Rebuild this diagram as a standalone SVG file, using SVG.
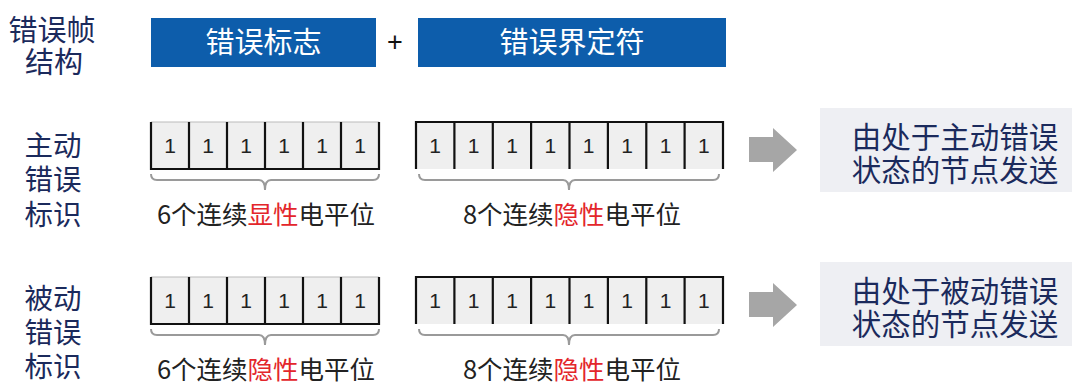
<svg xmlns="http://www.w3.org/2000/svg" width="1072" height="385" viewBox="0 0 1072 385">
<style>
.cjk{font-family:"Noto Sans CJK SC","Noto Sans",sans-serif}
.title{font-size:29px;fill:#1b2a5c}
.side{font-size:28.5px;fill:#1b2a5c}
.blue{fill:#0d5dab}
.bt{font-size:29px;fill:#ffffff}
.cell{fill:#efefef;stroke:none}
.ln{stroke:#111;stroke-width:2.2;fill:none}
.lt{stroke:#bbb;stroke-width:1.2;fill:none}
.dig{font-family:"Liberation Sans",Arial,sans-serif;font-size:21px;fill:#222;text-anchor:middle}
.brace{stroke:#9a9a9a;stroke-width:2;fill:none}
.lab{font-size:25.5px;fill:#222;text-anchor:middle}
.red{fill:#e3262b}
.arrow{fill:#a6a6a6}
.gbox{fill:#eeeff3}
.gt{font-size:29.5px;fill:#1b2a5c;text-anchor:middle}
</style>
<defs>
<g id="c6">
<rect class="cell" x="151" y="122" width="228" height="47"/>
<path class="lt" d="M151 122 H379"/>
<path class="ln" d="M151 122 V169 H379 V122 M189 122 V169 M227 122 V169 M265 122 V169 M303 122 V169 M341 122 V169"/>
<text class="dig" x="170" y="153">1</text><text class="dig" x="208" y="153">1</text><text class="dig" x="246" y="153">1</text><text class="dig" x="284" y="153">1</text><text class="dig" x="322" y="153">1</text><text class="dig" x="360" y="153">1</text>
<path class="brace" d="M151 174 Q151 180 157 180 H259 Q265 180 265 190 Q265 180 271 180 H373 Q379 180 379 174"/>
</g>
<g id="c8">
<rect class="cell" x="416" y="122" width="307" height="47"/>
<path class="ln" d="M416 169 V122 H723 V169 M454.4 122 V169 M492.8 122 V169 M531.1 122 V169 M569.5 122 V169 M607.9 122 V169 M646.3 122 V169 M684.6 122 V169"/>
<text class="dig" x="435" y="153">1</text><text class="dig" x="473.6" y="153">1</text><text class="dig" x="512" y="153">1</text><text class="dig" x="550.3" y="153">1</text><text class="dig" x="588.7" y="153">1</text><text class="dig" x="627.1" y="153">1</text><text class="dig" x="665.5" y="153">1</text><text class="dig" x="703.8" y="153">1</text>
<path class="brace" d="M419 174 Q419 180 425 180 H563 Q569 180 569 190 Q569 180 575 180 H713 Q719 180 719 174"/>
</g>
<path id="arr" d="M749 137 H773 V128 L797 150 L773 172 V162 H749 Z"/>
</defs>

<g id="title">
<text class="cjk title" x="52" y="41" text-anchor="middle">错误帧</text>
<text class="cjk title" x="54" y="73" text-anchor="middle">结构</text>
</g>
<g id="flag">
<rect class="blue" x="151" y="18" width="225" height="49"/>
<text class="cjk bt" x="263.5" y="53" text-anchor="middle">错误标志</text>
</g>
<g id="plus">
<text x="395" y="51" font-family="Liberation Sans,Arial,sans-serif" font-size="27" fill="#111" text-anchor="middle">+</text>
</g>
<g id="delim">
<rect class="blue" x="418" y="18" width="308" height="49"/>
<text class="cjk bt" x="572" y="53" text-anchor="middle">错误界定符</text>
</g>

<g id="active-label">
<text class="cjk side" x="53" y="156" text-anchor="middle">主动</text>
<text class="cjk side" x="53" y="190" text-anchor="middle">错误</text>
<text class="cjk side" x="53" y="225" text-anchor="middle">标识</text>
</g>
<g id="active-flag">
<use href="#c6"/>
<text class="cjk lab" x="266" y="224">6个连续<tspan class="red">显性</tspan>电平位</text>
</g>
<g id="active-delim">
<use href="#c8"/>
<text class="cjk lab" x="572" y="224">8个连续<tspan class="red">隐性</tspan>电平位</text>
</g>
<g id="active-note">
<rect class="gbox" x="820" y="108" width="252" height="84"/>
<text class="cjk gt" x="955" y="148">由处于主动错误</text>
<text class="cjk gt" x="955" y="181">状态的节点发送</text>
</g>

<g id="passive-label">
<text class="cjk side" x="53" y="309" text-anchor="middle">被动</text>
<text class="cjk side" x="53" y="343" text-anchor="middle">错误</text>
<text class="cjk side" x="53" y="377" text-anchor="middle">标识</text>
</g>
<g id="passive-flag">
<use href="#c6" transform="translate(0,155)"/>
<text class="cjk lab" x="266" y="379">6个连续<tspan class="red">隐性</tspan>电平位</text>
</g>
<g id="passive-delim">
<use href="#c8" transform="translate(0,155)"/>
<text class="cjk lab" x="572" y="379">8个连续<tspan class="red">隐性</tspan>电平位</text>
</g>
<g id="passive-note">
<rect class="gbox" x="820" y="262" width="252" height="84"/>
<text class="cjk gt" x="955" y="302">由处于被动错误</text>
<text class="cjk gt" x="955" y="335">状态的节点发送</text>
</g>

<g id="connectors">
<use class="arrow" href="#arr"/>
<use class="arrow" href="#arr" transform="translate(0,155)"/>
</g>
</svg>
